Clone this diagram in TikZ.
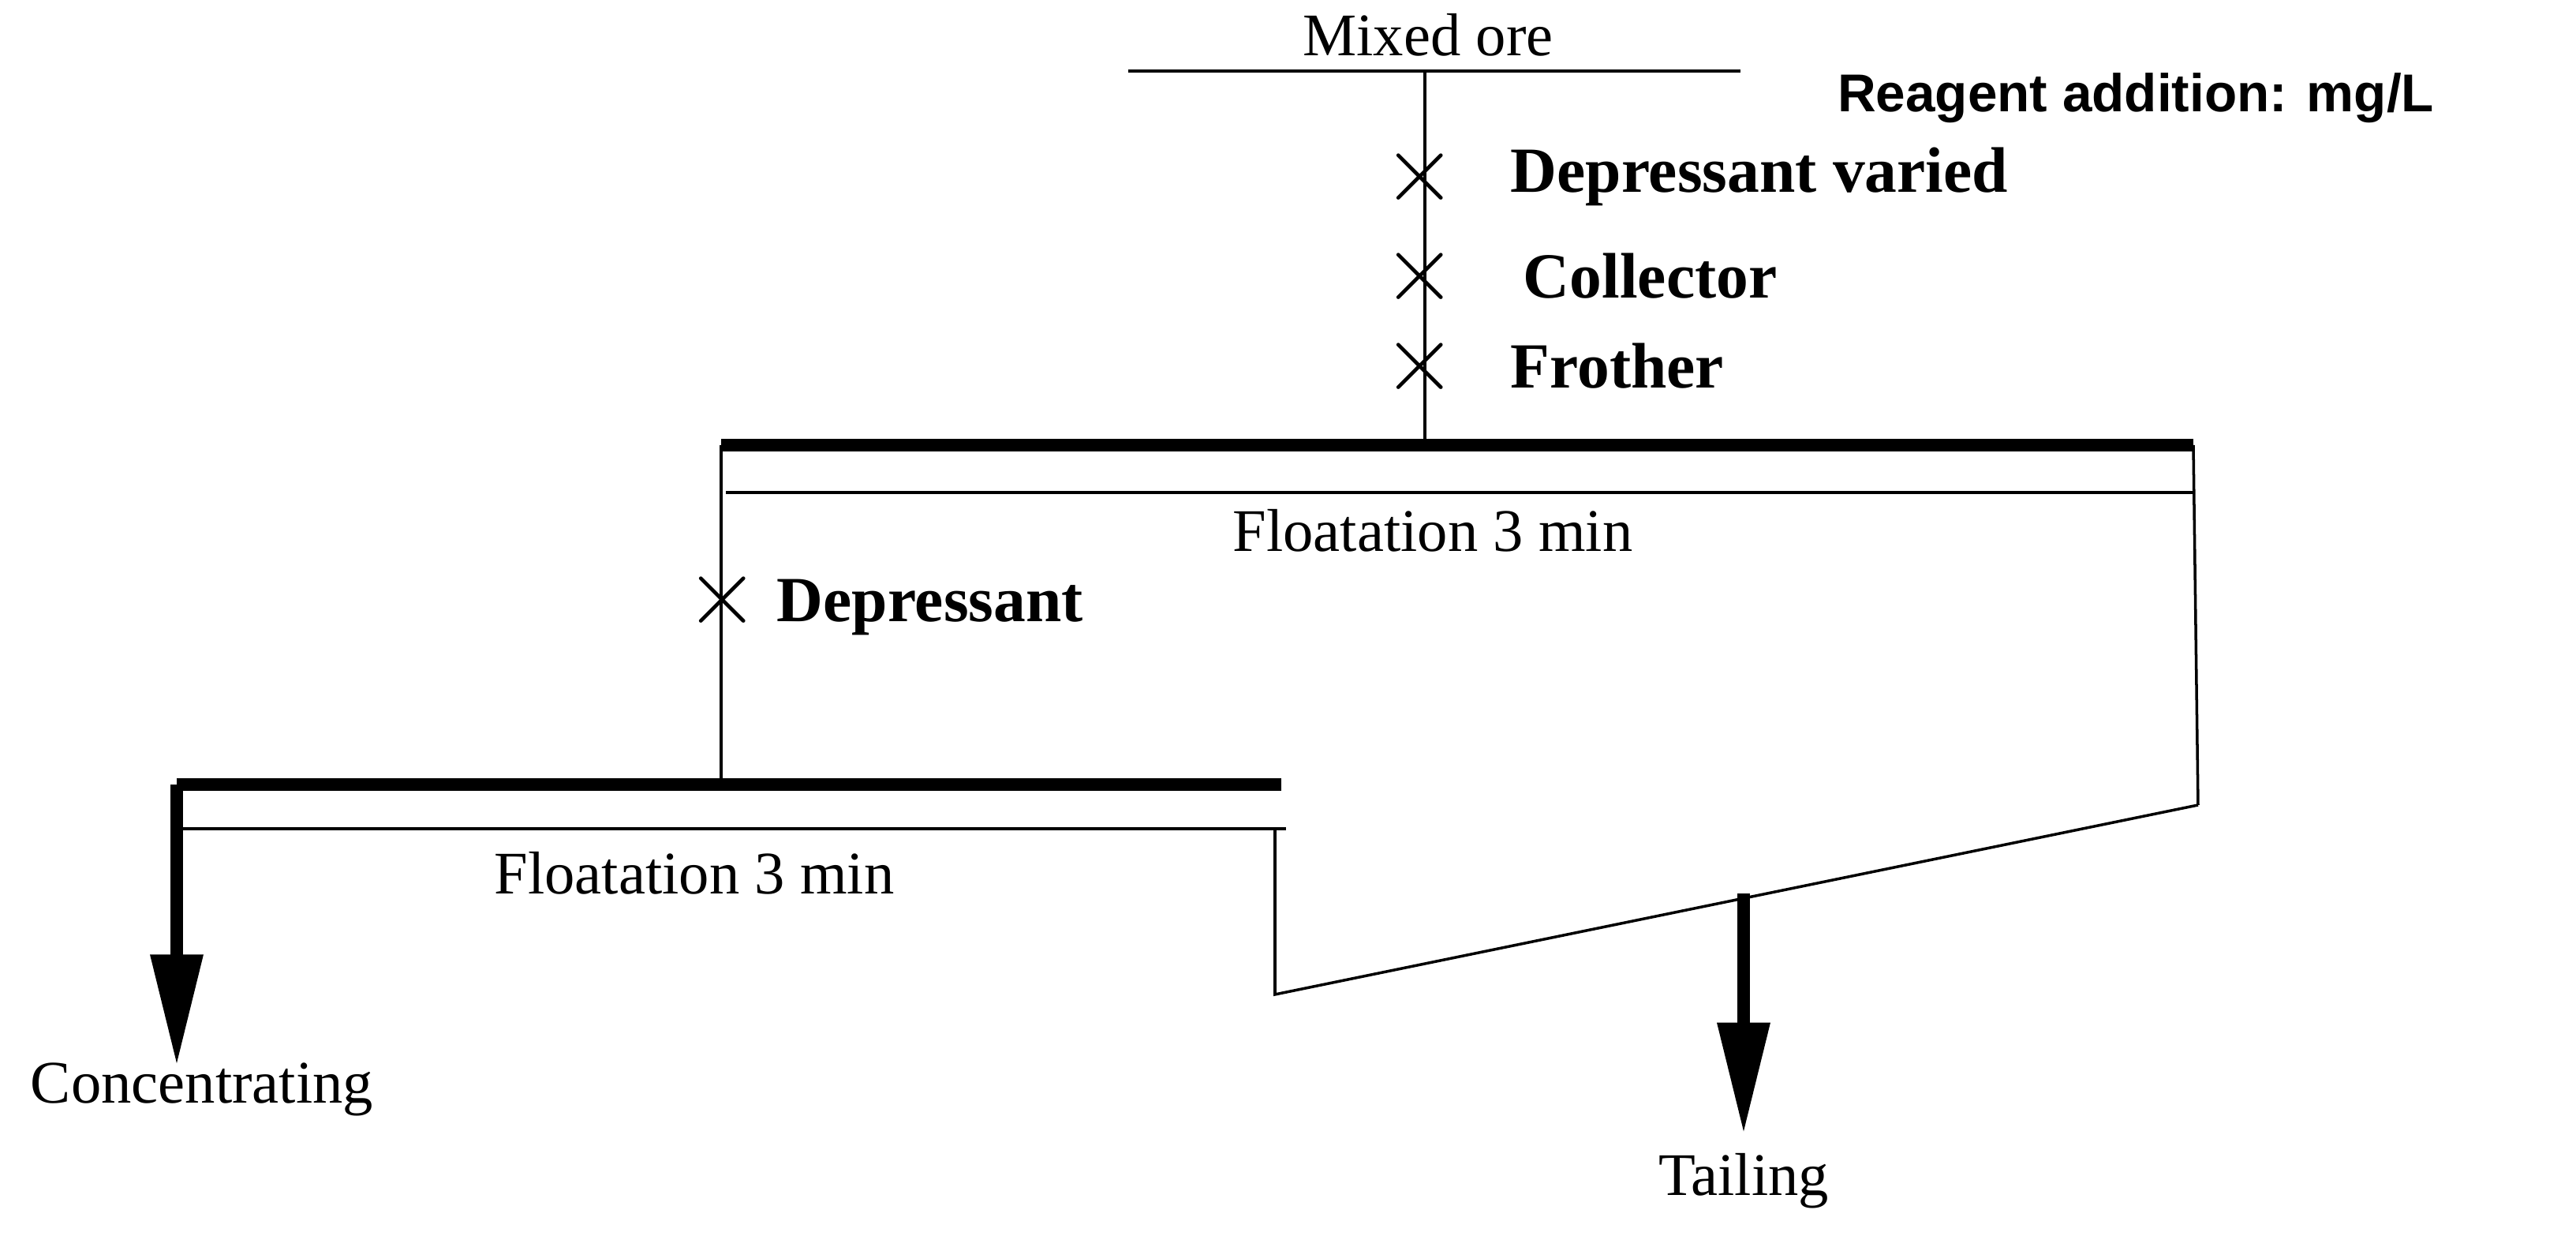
\documentclass[tikz,border=0pt]{standalone}
\usepackage{fontspec}
\setmainfont{Liberation Serif}
\newfontfamily\labelfont{Liberation Sans}
\usetikzlibrary{arrows.meta}
\begin{document}
\begin{tikzpicture}[yscale=-1,
    thin line/.style={line width=0.5pt},
    cell/.style={line width=2.2pt},
    product/.style={line width=2.2pt, -{Triangle[width=9pt,length=20pt]}},
    add/.style={font=\fontsize{11.6}{14}\selectfont\bfseries, anchor=west},
    txt/.style={font=\fontsize{10.9}{13}\selectfont}]
    \useasboundingbox (0,0) rectangle (16.325,7.83);
    % feed
    \node[txt] at (9.05,0.22) (feed) {Mixed ore};
    \coordinate (feedl) at (7.15,0.45);
    \coordinate (feedr) at (11.03,0.45);
    \draw[thin line] (feedl) -- (feedr);
    \coordinate (feedc) at (9.03,0.45);
    \coordinate (cell1in) at (9.03,2.82);
    \draw[thin line] (feedc) -- (cell1in);
    \node[font=\labelfont\fontsize{9.6}{12}\selectfont\bfseries, anchor=east] at (15.55,0.62) (unit) {Reagent addition: mg/L};
    % reagents
    \foreach \y/\name/\lab/\xl in {1.12/dep/Depressant varied/9.45, 1.75/col/Collector/9.53, 2.32/fro/Frother/9.45} {
        \node[txt, font=\fontsize{16}{16}\selectfont] at (9.0,\y) (x\name) {$\times$};
        \node[add] at (\xl,\y) (\name) {\lab};
    }
    % rougher cell
    \coordinate (c1l) at (4.57,2.82);
    \coordinate (c1r) at (13.90,2.82);
    \draw[cell] (c1l) -- (c1r);
    \coordinate (w1l) at (4.60,3.12);
    \coordinate (w1r) at (13.90,3.12);
    \draw[thin line] (w1l) -- (w1r);
    \node[txt] at (9.08,3.36) (float1) {Floatation 3 min};
    \coordinate (c1ld) at (4.57,4.97);
    \coordinate (c1rd) at (13.93,5.10);
    \draw[thin line] (c1l) -- (c1ld);
    \draw[thin line] (c1r) -- (c1rd);
    \node[txt, font=\fontsize{16}{16}\selectfont] at (4.58,3.80) (xdep2) {$\times$};
    \node[add] at (4.80,3.85) (dep2) {Depressant};
    % cleaner cell
    \coordinate (c2l) at (1.12,4.97);
    \coordinate (c2r) at (8.12,4.97);
    \draw[cell] (c2l) -- (c2r);
    \coordinate (w2l) at (1.12,5.25);
    \coordinate (w2r) at (8.15,5.25);
    \draw[thin line] (w2l) -- (w2r);
    \node[txt] at (4.40,5.53) (float2) {Floatation 3 min};
    % products
    \node[txt] at (1.28,6.90) (conc) {Concentrating};
    \coordinate (concend) at (1.12,6.75);
    \draw[product] (c2l) -- (concend);
    \coordinate (tl) at (8.08,5.25);
    \coordinate (tb) at (8.08,6.30);
    \draw[thin line] (tl) -- (tb) -- (c1rd);
    \coordinate (tailtop) at (11.05,5.66);
    \node[txt] at (11.05,7.48) (tail) {Tailing};
    \draw[product] (tailtop) -- (tail.north);
\end{tikzpicture}
\end{document}
